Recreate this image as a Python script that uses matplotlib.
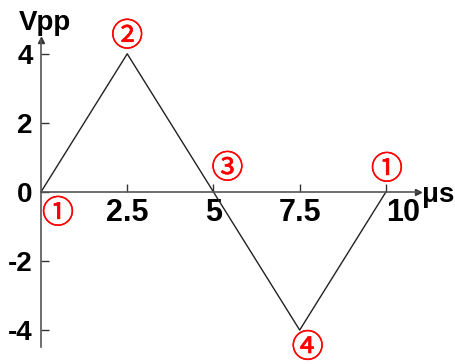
import matplotlib.pyplot as plt
import matplotlib.patheffects as pe

# triangle wave, one period
t = [0, 2.5, 7.5, 10]
v = [0, 4, -4, 0]

xticks = [2.5, 5, 7.5, 10]
xlabels = ["2.5", "5", "7.5", "10"]
yticks = [-4, -2, 0, 2, 4]
ylabels = ["-4", "-2", "0", "2", "4"]

# circled markers: (label, x, y, dx px, dy px)
marks = [("①", 0, 0, 17, -22),
         ("②", 2.5, 4, 0, 17),
         ("③", 5, 0, 14, 23),
         ("①", 10, 0, 1, 22),
         ("④", 7.5, -4, 8, -18)]

plt.rcParams['font.family'] = ['Liberation Sans', 'DejaVu Sans']

fig = plt.figure(figsize=(4.56, 3.64), dpi=100)
ax = fig.add_axes([41/456, 17/364, 377/456, 307/364])
ax.set_xlim(0, 10.93)
ax.set_ylim(-4.49, 4.4)

ax.plot(t, v, color='#222222', lw=1.0)

for s in ['top', 'right']:
    ax.spines[s].set_visible(False)
ax.spines['bottom'].set_position(('data', 0))
for s in ['left', 'bottom']:
    ax.spines[s].set_color('#555555')
    ax.spines[s].set_linewidth(1.2)

# arrow heads at axis ends
ax.plot(1, 0, '>', color='#333333', ms=5, transform=ax.get_yaxis_transform(), clip_on=False)
ax.plot(0, 1, '^', color='#333333', ms=5, transform=ax.get_xaxis_transform(), clip_on=False)

ax.set_xticks(xticks)
ax.set_xticklabels(xlabels, fontsize=22, fontweight='bold')
ax.set_yticks(yticks)
ax.set_yticklabels(ylabels, fontsize=20, fontweight='bold')
ax.tick_params(axis='both', direction='in', length=6, width=1, color='#333333')
ax.tick_params(axis='x', pad=4)
ax.tick_params(axis='y', pad=6)
# "10" sits a bit right of its tick
lab10 = ax.get_xticklabels()[-1]
lab10.set_horizontalalignment('left')

ax.text(-0.65, 4.52, "Vpp", fontsize=20, fontweight='bold', ha='left', va='bottom')
ax.text(11.05, -0.08, "μs", fontsize=20, fontweight='bold', ha='left', va='center')

for lab, x, y, dx, dy in marks:
    ax.annotate(lab, (x, y), xytext=(dx, dy), textcoords='offset pixels',
                ha='center', va='center', color='red', fontsize=23,
                family=['Noto Sans CJK JP', 'DejaVu Sans'], annotation_clip=False,
                path_effects=[pe.withStroke(linewidth=0.45, foreground='red')])

plt.savefig('out.png', dpi=100)
plt.close()
